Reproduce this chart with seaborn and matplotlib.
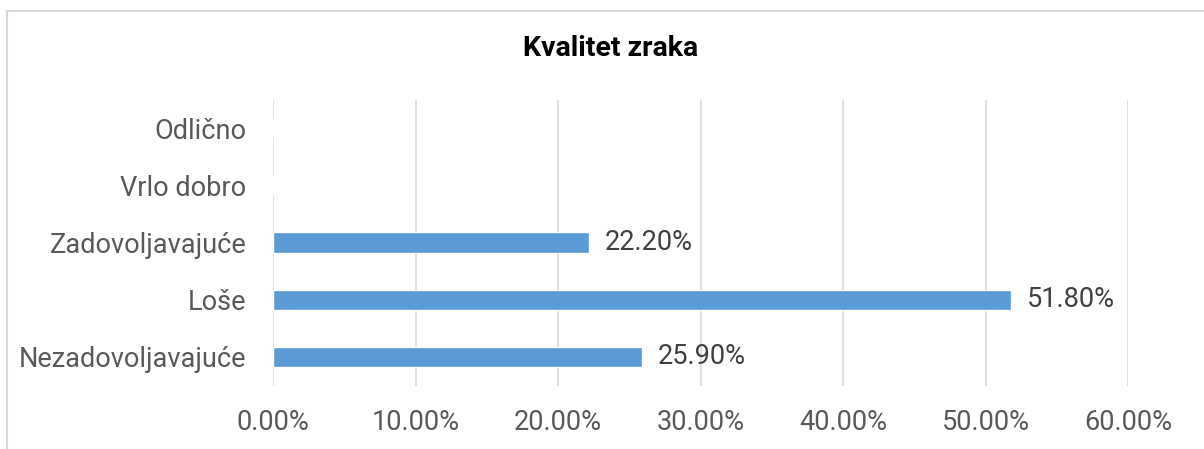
import pandas as pd
import numpy as np
import matplotlib.pyplot as plt
import seaborn as sns
from matplotlib.lines import Line2D

# podaci
kategorije = ["Odlično", "Vrlo dobro", "Zadovoljavajuće", "Loše", "Nezadovoljavajuće"]
postotci = [0.0, 0.0, 22.2, 51.8, 25.9]
x_ticks = [0, 10, 20, 30, 40, 50, 60]

df = pd.DataFrame({"Kategorija": kategorije, "Postotak": postotci})

sns.set_style("white")
plt.rcParams['font.family'] = ['Roboto', 'DejaVu Sans']

fig = plt.figure(figsize=(12.04, 4.49), dpi=100)
ax = fig.add_axes([273/1204, 1 - 385.5/449, (1128-273)/1204, (385.5-99.5)/449])

sns.barplot(data=df, x="Postotak", y="Kategorija", order=kategorije,
            color="#5B9BD5", saturation=1, width=0.35, ax=ax)

# labele na barovima (samo za vrijednosti > 0)
labels = [f"{v:.2f}%" if v > 0 else "" for v in postotci]
ax.bar_label(ax.containers[0], labels=labels, padding=11,
             fontsize=19.5, color="#404040")

ax.set_xlim(0, 60)
ax.set_xticks(x_ticks)
ax.set_xticklabels([f"{t:.2f}%" for t in x_ticks])
ax.set_xlabel("")
ax.set_ylabel("")

ax.grid(axis="x", color="#d9d9d9", linewidth=1.2)
ax.set_axisbelow(True)
for s in ax.spines.values():
    s.set_visible(False)

ax.tick_params(axis="x", length=0, pad=17, labelsize=19.5, labelcolor="#595959")
ax.tick_params(axis="y", length=0, pad=19, labelsize=19.5, labelcolor="#595959")

fig.text(611/1204, 1 - 49/449, "Kvalitet zraka", ha="center", va="center",
         fontsize=20.5, fontweight="bold", color="black")

# okvir grafikona (gornji i lijevi rub)
fig.add_artist(Line2D([7/1204, 1], [1 - 11/449, 1 - 11/449],
                      transform=fig.transFigure, color="#d9d9d9", linewidth=1.5))
fig.add_artist(Line2D([7/1204, 7/1204], [0, 1 - 11/449],
                      transform=fig.transFigure, color="#d9d9d9", linewidth=1.5))

plt.savefig("out.png", dpi=100)
